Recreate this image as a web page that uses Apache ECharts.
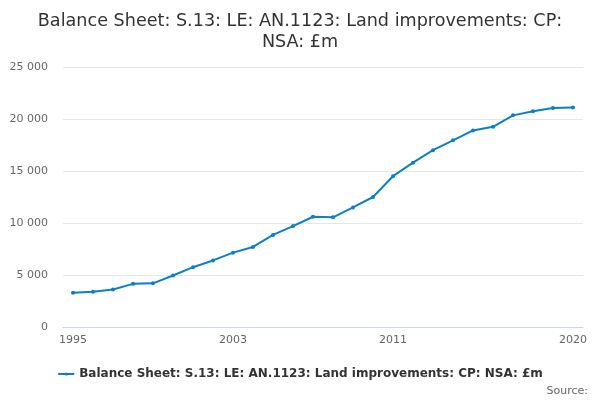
<!DOCTYPE html>
<html>
<head>
<meta charset="utf-8">
<script src="https://cdn.jsdelivr.net/npm/echarts@6/dist/echarts.min.js"></script>
<style>
  html, body { margin: 0; padding: 0; background: #fff; }
  #chart { width: 600px; height: 400px; }
</style>
</head>
<body>
<div id="chart"></div>
<script>
const years = ['1995', '1996', '1997', '1998', '1999', '2000', '2001', '2002', '2003', '2004',
  '2005', '2006', '2007', '2008', '2009', '2010', '2011', '2012', '2013', '2014',
  '2015', '2016', '2017', '2018', '2019', '2020'];
const values = [3300, 3400, 3600, 4150, 4200, 4950, 5750, 6400, 7150, 7700,
  8850, 9700, 10600, 10550, 11500, 12500, 14500, 15800, 17000, 17950,
  18900, 19250, 20350, 20750, 21050, 21100];
const yTicks = [0, 5000, 10000, 15000, 20000, 25000];
const seriesName = 'Balance Sheet: S.13: LE: AN.1123: Land improvements: CP: NSA: £m';

const chart = echarts.init(document.getElementById('chart'));
const last = years.length - 1;

chart.setOption({
  animation: false,
  textStyle: { fontFamily: 'DejaVu Sans' },
  title: {
    text: 'Balance Sheet: S.13: LE: AN.1123: Land improvements: CP:\nNSA: £m',
    left: 'center',
    top: 6,
    textStyle: { fontSize: 17.6, fontWeight: 'normal', color: '#333', lineHeight: 21, fontFamily: 'DejaVu Sans' }
  },
  grid: { left: 63, right: 17, top: 67, bottom: 73 },
  xAxis: {
    type: 'category',
    data: years,
    boundaryGap: true,
    axisLine: { lineStyle: { color: '#ccd6eb' } },
    axisTick: {
      alignWithLabel: true,
      length: 10,
      lineStyle: { color: '#ccd6eb' },
      // every other year, with the last year added at the end
      interval: (i) => (i % 2 === 0 && i < last - 1) || i === last
    },
    axisLabel: {
      color: '#666',
      fontSize: 11,
      margin: 8,
      interval: (i) => (i % 8 === 0 && i < last - 1) || i === last
    }
  },
  yAxis: {
    type: 'value',
    min: yTicks[0],
    max: yTicks[yTicks.length - 1],
    interval: 5000,
    axisLine: { show: false },
    axisTick: { show: false },
    splitLine: { lineStyle: { color: '#e6e6e6' } },
    axisLabel: {
      color: '#666',
      fontSize: 11,
      margin: 15,
      formatter: (v) => String(v).replace(/\B(?=(\d{3})+(?!\d))/g, ' ')
    }
  },
  legend: {
    bottom: 15,
    left: 'center',
    itemWidth: 16,
    itemHeight: 4,
    textStyle: { fontSize: 12, fontWeight: 'bold', color: '#333' },
    data: [seriesName]
  },
  graphic: [{
    type: 'text',
    right: 12,
    bottom: 3,
    style: { text: 'Source:', fill: '#666', fontSize: 11, fontFamily: 'DejaVu Sans' }
  }],
  series: [{
    name: seriesName,
    type: 'line',
    data: values,
    symbol: 'circle',
    symbolSize: 4,
    lineStyle: { width: 2, color: '#0b7fc7' },
    itemStyle: { color: '#0b7fc7' }
  }]
});
</script>
</body>
</html>
